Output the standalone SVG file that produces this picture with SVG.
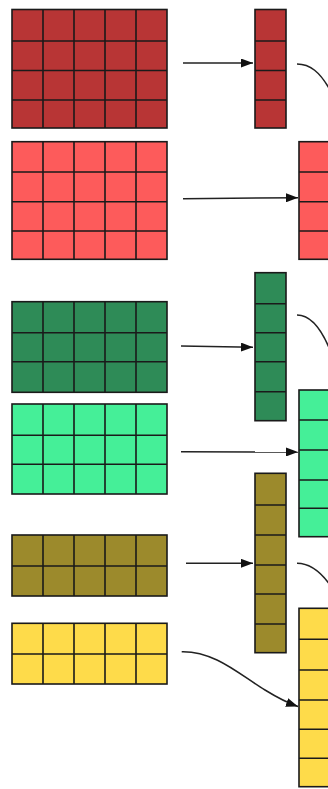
<svg xmlns="http://www.w3.org/2000/svg" width="328" height="789" viewBox="0 0 328 789">
<defs>
<style>
.g rect{stroke:#1a1a1a;stroke-width:1.6}
.g path{stroke:#1a1a1a;stroke-width:1.6;fill:none}
.c1{fill:#b83535}.c2{fill:#fd5b5b}.c3{fill:#2e8b57}.c4{fill:#45ef98}.c5{fill:#9c8a2c}.c6{fill:#fedb4a}
#connectors path{stroke:#222;stroke-width:1.5;fill:none}
</style>
<marker id="ah" viewBox="0 0 12 9" refX="12" refY="4.5" markerWidth="12" markerHeight="9" markerUnits="userSpaceOnUse" orient="auto">
<path d="M0,0 L12,4.5 L0,9 Z" fill="#111"/>
</marker>
</defs>
<rect width="328" height="789" fill="#ffffff"/>

<g id="grid-darkred" class="g">
<rect class="c1" x="12" y="9.5" width="155" height="118.5"/>
<path d="M43,9.5V128M74,9.5V128M105,9.5V128M136,9.5V128M12,41H167M12,70.5H167M12,100H167"/>
</g>
<g id="col-darkred" class="g">
<rect class="c1" x="255" y="9.5" width="31" height="118.5"/>
<path d="M255,41H286M255,70.5H286M255,100H286"/>
</g>

<g id="grid-red" class="g">
<rect class="c2" x="12" y="141.7" width="155" height="117.6"/>
<path d="M43,141.7V259.3M74,141.7V259.3M105,141.7V259.3M136,141.7V259.3M12,172H167M12,201.7H167M12,231H167"/>
</g>
<g id="col-red" class="g">
<rect class="c2" x="299" y="141.7" width="31" height="117.6"/>
<path d="M299,172H330M299,201.7H330M299,231H330"/>
</g>

<g id="grid-darkgreen" class="g">
<rect class="c3" x="12" y="301.7" width="155" height="90.6"/>
<path d="M43,301.7V392.3M74,301.7V392.3M105,301.7V392.3M136,301.7V392.3M12,332.7H167M12,361.7H167"/>
</g>
<g id="col-darkgreen" class="g">
<rect class="c3" x="255" y="272.7" width="31" height="148"/>
<path d="M255,303.7H286M255,332.7H286M255,361.7H286M255,391.7H286"/>
</g>

<g id="grid-green" class="g">
<rect class="c4" x="12" y="404" width="155" height="90"/>
<path d="M43,404V494M74,404V494M105,404V494M136,404V494M12,435.3H167M12,464.3H167"/>
</g>
<g id="col-green" class="g">
<rect class="c4" x="299" y="390" width="31" height="146.7"/>
<path d="M299,420H330M299,450H330M299,480H330M299,508.3H330"/>
</g>

<g id="grid-olive" class="g">
<rect class="c5" x="12" y="535" width="155" height="61"/>
<path d="M43,535V596M74,535V596M105,535V596M136,535V596M12,566H167"/>
</g>
<g id="col-olive" class="g">
<rect class="c5" x="255" y="473.3" width="31" height="179.4"/>
<path d="M255,505H286M255,535H286M255,565H286M255,594H286M255,624H286"/>
</g>

<g id="grid-yellow" class="g">
<rect class="c6" x="12" y="623.3" width="155" height="60.7"/>
<path d="M43,623.3V684M74,623.3V684M105,623.3V684M136,623.3V684M12,654H167"/>
</g>
<g id="col-yellow" class="g">
<rect class="c6" x="299" y="608.3" width="31" height="178.4"/>
<path d="M299,639.3H330M299,670H330M299,700H330M299,729.3H330M299,758.3H330"/>
</g>

<g id="connectors">
<path d="M183,63 L253,63" marker-end="url(#ah)"/>
<path d="M183,198.7 L298,197.7" marker-end="url(#ah)"/>
<path d="M181,346 L253,347.3" marker-end="url(#ah)"/>
<path d="M181,451.7 L298,452" marker-end="url(#ah)"/>
<path d="M186,563.3 L253,563.3" marker-end="url(#ah)"/>
<path d="M181.7,651.7 C215,651 240,675 265,690 C278,698 288,703 298,706.5" marker-end="url(#ah)"/>
<path d="M297,64 C310,64 320,72 330,90"/>
<path d="M297,315 C310,315 321,328 330,350"/>
<path d="M297,563.3 C310,563.3 320,571 330,585"/>
</g>
</svg>
